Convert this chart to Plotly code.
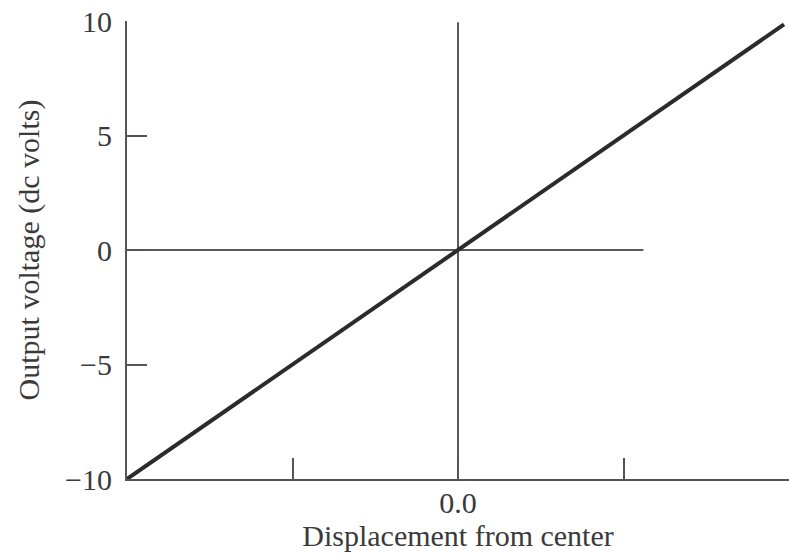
import plotly.graph_objects as go

# Data
disp_x = [-1.0, 0.985]
volt_y = [-10.0, 9.85]

# reference lines (vertical center line and horizontal zero line)
vline_x = [0.0, 0.0]
vline_y = [-10.0, 9.95]
hline_x = [-1.0, 0.56]
hline_y = [0.0, 0.0]

x_tickvals = [-0.5, 0.0, 0.5]
x_ticktext = ["", "0.0", ""]
y_tickvals = [-10, -5, 0, 5, 10]
y_ticktext = ["\u221210", "\u22125", "0", "5", "10"]

axis_color = "#555555"
text_color = "#3a3a3a"
font_family = "Liberation Serif, Times New Roman, serif"
fs = 30

fig = go.Figure()
fig.add_trace(go.Scatter(x=vline_x, y=vline_y, mode="lines",
                         line=dict(color="#5a5a5a", width=2), hoverinfo="skip"))
fig.add_trace(go.Scatter(x=hline_x, y=hline_y, mode="lines",
                         line=dict(color="#5a5a5a", width=2), hoverinfo="skip"))
fig.add_trace(go.Scatter(x=disp_x, y=volt_y, mode="lines",
                         line=dict(color="#2b2b2b", width=4)))

fig.update_layout(
    width=789, height=555,
    margin=dict(l=127, r=0, t=21, b=76, pad=0),
    paper_bgcolor="white", plot_bgcolor="white",
    showlegend=False,
    font=dict(family=font_family, size=fs, color=text_color),
    xaxis=dict(range=[-1, 1], showgrid=False, zeroline=False, automargin=False,
               showline=True, linecolor=axis_color, linewidth=2,
               ticks="inside", ticklen=21, tickwidth=2, tickcolor=axis_color,
               tickvals=x_tickvals, ticktext=x_ticktext, ticklabelstandoff=-4,
               tickfont=dict(size=fs, color=text_color),
               title=dict(text="Displacement from center", standoff=0,
                          font=dict(size=fs, color=text_color))),
    yaxis=dict(range=[-10, 10], showgrid=False, zeroline=False, automargin=False,
               showline=True, linecolor=axis_color, linewidth=2,
               ticks="inside", ticklen=20, tickwidth=2, tickcolor=axis_color,
               tickvals=y_tickvals, ticktext=y_ticktext, ticklabelstandoff=7,
               tickfont=dict(size=fs, color=text_color),
               title=dict(text="Output voltage (dc volts)", standoff=17,
                          font=dict(size=fs, color=text_color))),
)

fig.write_html(
    "out.html",
    config={"displayModeBar": False},
    post_script="document.body.style.margin='0';"
                "Plotly.relayout(document.getElementById('{plot_id}'), {width: 789, height: 555});",
)
